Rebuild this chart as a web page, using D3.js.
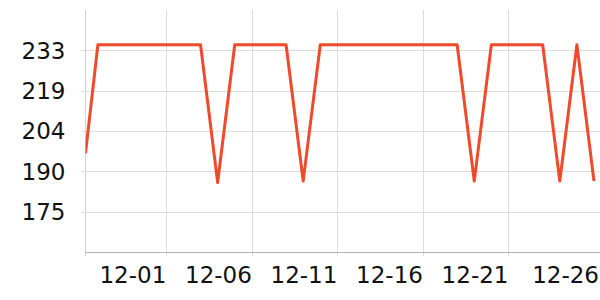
<!DOCTYPE html>
<html>
<head>
<meta charset="utf-8">
<script src="https://cdn.jsdelivr.net/npm/d3@7"></script>
<style>
  body { margin: 0; background: #fff; }
  text { font-family: "DejaVu Sans", sans-serif; }
</style>
</head>
<body>
<div class="chart"></div>
<script>
const svgWidth = 600
const svgHeight = 300

// data
const dates = [
  "2023-11-26T06:36",
  "2023-11-27", "2023-11-28", "2023-11-29", "2023-11-30",
  "2023-12-01", "2023-12-02", "2023-12-03", "2023-12-04", "2023-12-05",
  "2023-12-06", "2023-12-07", "2023-12-08", "2023-12-09", "2023-12-10",
  "2023-12-11", "2023-12-12", "2023-12-13", "2023-12-14", "2023-12-15",
  "2023-12-16", "2023-12-17", "2023-12-18", "2023-12-19", "2023-12-20",
  "2023-12-21", "2023-12-22", "2023-12-23", "2023-12-24", "2023-12-25",
  "2023-12-26"
]
const values = [
  196,
  235, 235, 235, 235,
  235, 235, 235, 185.5, 235,
  235, 235, 235, 186, 235,
  235, 235, 235, 235, 235,
  235, 235, 235, 186, 235,
  235, 235, 235, 186, 235,
  186
]
const xTickDates = ["2023-12-01", "2023-12-06", "2023-12-11", "2023-12-16", "2023-12-21", "2023-12-26"]
const yTickValues = [175, 189.5, 204, 218.5, 233]
const yDomain = [160.5, 247.5]

let margin = { top: 10, right: 6, bottom: 48, left: 85.5 }
let plotRight = svgWidth
let height = svgHeight - margin.top - margin.bottom

let parseLocal = s => s.length > 10 ? d3.timeParse("%Y-%m-%dT%H:%M")(s) : d3.timeParse("%Y-%m-%d")(s)

let data = dates.map((d, i) => ({ date: parseLocal(d), value: values[i] }))

let svg = d3.select(".chart")
  .append("svg")
  .attr("width", svgWidth)
  .attr("height", svgHeight)

let xScale = d3.scaleTime()
  .domain(d3.extent(data, d => d.date))
  .range([margin.left, svgWidth - margin.right])

let yScale = d3.scaleLinear()
  .domain(yDomain)
  .range([margin.top + height, margin.top])

let xTicks = xTickDates.map(parseLocal)
let fmt = d3.timeFormat("%m-%d")

// horizontal grid
svg.append("g")
  .selectAll("line")
  .data(yTickValues)
  .enter()
  .append("line")
  .attr("x1", margin.left - 4)
  .attr("x2", plotRight)
  .attr("y1", d => Math.round(yScale(d)) + 0.5)
  .attr("y2", d => Math.round(yScale(d)) + 0.5)
  .attr("stroke", "#dcdcdc")

// vertical grid (last tick sits on the data edge, no line drawn there)
svg.append("g")
  .selectAll("line")
  .data(xTicks.slice(0, -1))
  .enter()
  .append("line")
  .attr("x1", d => Math.round(xScale(d)) + 0.5)
  .attr("x2", d => Math.round(xScale(d)) + 0.5)
  .attr("y1", margin.top)
  .attr("y2", margin.top + height + 4)
  .attr("stroke", "#dcdcdc")

// left edge
svg.append("line")
  .attr("x1", margin.left)
  .attr("x2", margin.left)
  .attr("y1", margin.top)
  .attr("y2", margin.top + height + 4)
  .attr("stroke", "#d0d0d0")

// bottom axis line
svg.append("line")
  .attr("x1", margin.left)
  .attr("x2", plotRight)
  .attr("y1", margin.top + height + 0.5)
  .attr("y2", margin.top + height + 0.5)
  .attr("stroke", "#b4b4b4")

// y labels
svg.append("g")
  .selectAll("text")
  .data(yTickValues)
  .enter()
  .append("text")
  .attr("x", margin.left - 20)
  .attr("y", d => yScale(d))
  .attr("dy", "0.36em")
  .attr("text-anchor", "end")
  .attr("font-size", 23)
  .attr("fill", "#111")
  .text(d => Math.round(d))

// x labels
svg.append("g")
  .selectAll("text")
  .data(xTicks)
  .enter()
  .append("text")
  .attr("x", (d, i) => i === xTicks.length - 1 ? svgWidth - 1 : xScale(d))
  .attr("y", margin.top + height + 31)
  .attr("text-anchor", "end")
  .attr("font-size", 23)
  .attr("fill", "#111")
  .text(d => fmt(d))

// clip for the series
svg.append("clipPath")
  .attr("id", "plot-clip")
  .append("rect")
  .attr("x", margin.left)
  .attr("y", 0)
  .attr("width", plotRight - margin.left)
  .attr("height", margin.top + height)

let line = d3.line()
  .x(d => xScale(d.date))
  .y(d => yScale(d.value))

svg.append("path")
  .datum(data)
  .attr("clip-path", "url(#plot-clip)")
  .attr("d", line)
  .attr("fill", "none")
  .attr("stroke", "#ef4a2c")
  .attr("stroke-width", 3)
  .attr("stroke-linejoin", "round")
</script>
</body>
</html>
